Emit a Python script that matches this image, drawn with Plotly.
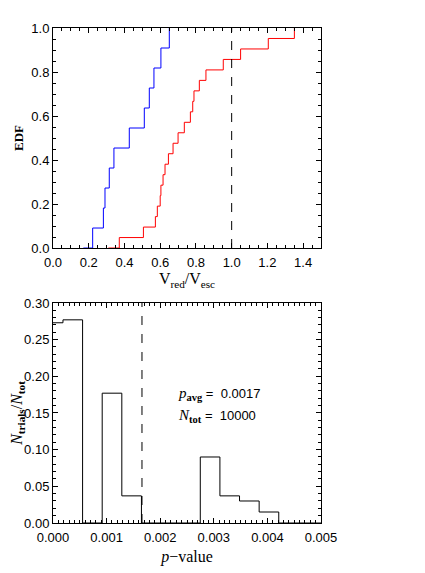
import plotly.graph_objects as go
from plotly.subplots import make_subplots

# top panel: sorted V_red/V_esc values, one step of the EDF each
blue_v = [0.222, 0.282, 0.291, 0.315, 0.341, 0.427, 0.511, 0.539, 0.565, 0.604, 0.651]
red_v = [0.371, 0.506, 0.573, 0.584, 0.600, 0.604, 0.616, 0.627, 0.646, 0.672, 0.700,
         0.735, 0.769, 0.782, 0.789, 0.819, 0.856, 0.953, 1.050, 1.205, 1.351]
blue_start = 0.17
red_start = 0.31
v_cut = 1.0

# bottom panel: histogram of p-values (left bin edges and fractions)
p_edges = [0.0, 0.000186, 0.000552, 0.000918, 0.001284, 0.00165, 0.002016,
           0.002382, 0.002748, 0.003114, 0.00348, 0.003846, 0.004212, 0.005]
frac = [0.273, 0.277, 0.0, 0.177, 0.037, 0.0, 0.0,
        0.0, 0.090, 0.037, 0.030, 0.015, 0.0, 0.0]
p_avg = 0.00166
p_avg_text = "0.0017"
n_tot = "10000"


def edf(start, vals):
    xs = [start] + vals
    ys = [0.0] + [(i + 1) / len(vals) for i in range(len(vals))]
    return xs, ys


serif = "Liberation Serif"
sans = "Liberation Sans"

fig = make_subplots(rows=2, cols=1, vertical_spacing=0.111)

bx, by = edf(blue_start, blue_v)
rx, ry = edf(red_start, red_v)
fig.add_trace(go.Scatter(x=bx, y=by, mode="lines", line=dict(color="blue", width=1, shape="hv")), row=1, col=1)
fig.add_trace(go.Scatter(x=rx, y=ry, mode="lines", line=dict(color="red", width=1, shape="hv")), row=1, col=1)
fig.add_trace(go.Scatter(x=[v_cut, v_cut], y=[0, 1], mode="lines",
                         line=dict(color="black", width=1, dash="dash")), row=1, col=1)

fig.add_trace(go.Scatter(x=p_edges, y=frac, mode="lines", line=dict(color="black", width=1, shape="hv")), row=2, col=1)
fig.add_trace(go.Scatter(x=[p_avg, p_avg], y=[0, 0.3], mode="lines",
                         line=dict(color="black", width=1, dash="dash")), row=2, col=1)

axis_style = dict(showline=True, linecolor="black", linewidth=1, mirror="allticks",
                  ticks="inside", ticklen=5, tickcolor="black", showgrid=False, zeroline=False,
                  automargin=False, tickfont=dict(family=sans, size=13, color="black"))

fig.update_xaxes(range=[0, 1.5], dtick=0.2, tickformat=".1f", ticklabelstandoff=2,
                 minor=dict(dtick=0.05, ticks="inside", ticklen=3, tickcolor="black"),
                 title=dict(text="V<sub>red</sub>/V<sub>esc</sub>", standoff=4,
                            font=dict(family=serif, size=16, color="black")),
                 row=1, col=1, **axis_style)
fig.update_yaxes(range=[0, 1], dtick=0.2, tickformat=".1f",
                 minor=dict(dtick=0.05, ticks="inside", ticklen=3, tickcolor="black"),
                 title=dict(text="<b>EDF</b>", standoff=4,
                            font=dict(family=serif, size=13, color="black")),
                 row=1, col=1, **axis_style)
fig.update_xaxes(range=[0, 0.005], dtick=0.001, tickformat=".3f", ticklabelstandoff=2,
                 minor=dict(dtick=0.0001, ticks="inside", ticklen=3, tickcolor="black"),
                 title=dict(text="<i>p</i>\u2212value", standoff=7,
                            font=dict(family=serif, size=16, color="black")),
                 row=2, col=1, **axis_style)
fig.update_yaxes(range=[0, 0.3], dtick=0.05, tickformat=".2f",
                 minor=dict(dtick=0.01, ticks="inside", ticklen=3, tickcolor="black"),
                 title=dict(text="<i>N</i><sub><b>trials</b></sub>/<i>N</i><sub><b>tot</b></sub>", standoff=3,
                            font=dict(family=serif, size=16, color="black")),
                 row=2, col=1, **axis_style)

num_span = "<span style='font-family:Liberation Sans;font-size:13px'>&nbsp;=&nbsp; {}</span>"
fig.add_annotation(x=0.0023, y=0.176, xref="x2", yref="y2", xanchor="left", showarrow=False,
                   text="<i>p</i><sub><b>avg</b></sub>" + num_span.format(p_avg_text),
                   font=dict(family=serif, size=15, color="black"))
fig.add_annotation(x=0.0023, y=0.146, xref="x2", yref="y2", xanchor="left", showarrow=False,
                   text="<i>N</i><sub><b>tot</b></sub>" + num_span.format(n_tot),
                   font=dict(family=serif, size=15, color="black"))

# the page adds an 8px body margin, so the margins are shifted by that much
fig.update_layout(width=425, height=573, showlegend=False,
                  margin=dict(l=45, r=112, t=20, b=58),
                  paper_bgcolor="white", plot_bgcolor="white")

fig.write_html("out.html")
